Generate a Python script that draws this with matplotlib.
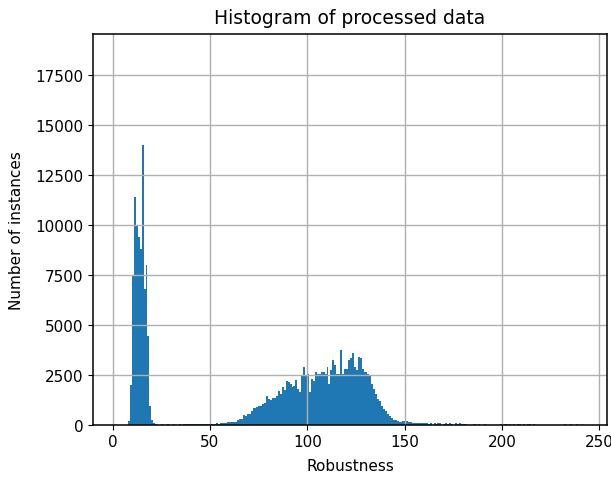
import numpy as np
import matplotlib
import matplotlib.pyplot as plt

matplotlib.use("Agg")

plt.rcParams.update({
    "font.family": "DejaVu Sans",
    "font.size": 11,
})

# histogram: bins of width 1, first left edge 1.9
bin_start = 1.9
bin_width = 1.0
counts = [
    0, 0, 0, 0, 0, 0, 200, 2000, 7500, 11400,            # 2-11
    9950, 9400, 8800, 14000, 6800, 8000, 4450, 950, 250, 100,
    60, 0, 0, 40, 0, 0, 40, 0, 0, 40,
    0, 0, 40, 0, 40, 50, 40, 50, 40, 50,
    40, 50, 60, 50, 40, 50, 60, 50, 60, 50,
    60, 70, 60, 85, 90, 80, 100, 140, 130, 150,
    140, 160, 250, 300, 300, 470, 425, 540, 540, 700,     # 62-71
    850, 850, 870, 935, 950, 1050, 1100, 1445, 1300, 1225,
    1325, 1325, 1445, 1665, 1530, 1870, 1735, 2210, 2125, 2040,
    1870, 1955, 2245, 1800, 1615, 2465, 2890, 2465, 2550, 1650,
    2300, 2210, 2635, 2550, 2550, 2635, 2635, 2550, 2890, 2040,  # 102-111
    2720, 3230, 2975, 2550, 2550, 3740, 2550, 2800, 2800, 3230,
    3315, 3570, 2890, 2720, 3400, 3315, 2800, 2635, 2635, 2550,
    2465, 2040, 1800, 1530, 1275, 1190, 935, 800, 680, 560,
    420, 320, 230, 240, 190, 150, 140, 170, 170, 180,      # 142-151
    150, 120, 100, 110, 90, 100, 90, 100, 80, 70,
    60, 70, 0, 70, 60, 70, 70, 0, 60, 70,
    60, 70, 60, 0, 70, 60, 70, 60, 50, 60,
    0, 0, 0, 50, 50, 0, 50, 0, 0, 50,                     # 182-191
    0, 0, 0, 0, 0, 0, 0, 50, 0, 50,
    50, 0, 50, 0, 50, 0, 50, 50, 0, 50,
    0, 50, 50, 0, 50, 0, 0, 0, 0, 0,
    0, 0, 0, 0, 0, 0, 0, 0, 0, 0,
    40, 0, 0, 40, 0, 0, 40, 0, 0, 40,                     # 232-241
]

edges = bin_start + bin_width * np.arange(len(counts) + 1)
centers = (edges[:-1] + edges[1:]) / 2

fig = plt.figure(figsize=(6.11, 4.81), dpi=100)
ax = fig.add_axes([93 / 611, 1 - 425.7 / 481, (607 - 93) / 611, (425.7 - 35) / 481])

ax.hist(centers, bins=edges, weights=counts, color="#1f77b4")
ax.grid(True, color="#b0b0b0", lw=1.0)

ax.set_xlim(-10.1, 254)
ax.set_ylim(0, 19535)
ax.set_xticks([0, 50, 100, 150, 200, 250])
ax.set_yticks(np.arange(0, 17501, 2500))
for s in ax.spines.values():
    s.set_linewidth(1.1)

ax.set_title("Histogram of processed data", fontsize=13.5, pad=8)
ax.set_xlabel("Robustness", labelpad=6)
ax.set_ylabel("Number of instances", labelpad=8)

fig.savefig("out.png", dpi=100)
